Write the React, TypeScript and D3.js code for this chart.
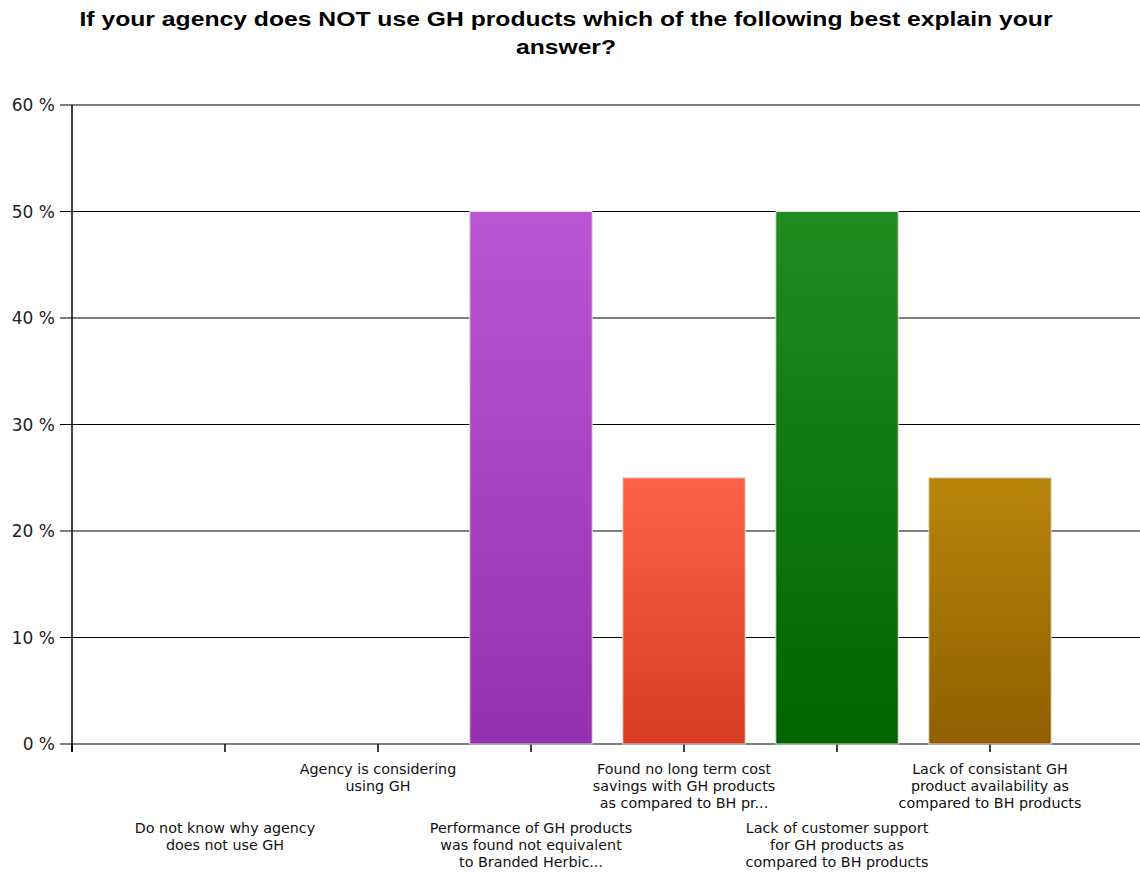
import React from "react";
import * as d3 from "d3";

const categories: string[][] = [
  ["Do not know why agency", "does not use GH"],
  ["Agency is considering", "using GH"],
  ["Performance of GH products", "was found not equivalent", "to Branded Herbic..."],
  ["Found no long term cost", "savings with GH products", "as compared to BH pr..."],
  ["Lack of customer support", "for GH products as", "compared to BH products"],
  ["Lack of consistant GH", "product availability as", "compared to BH products"],
];
const values: number[] = [0, 0, 50, 25, 50, 25];
const colorsTop: string[] = ["#BA55D3", "#BA55D3", "#BA55D3", "#FF6347", "#228B22", "#B8860B"];
const colorsBottom: string[] = ["#9932CC", "#9932CC", "#9530B0", "#D63C20", "#006400", "#8F5F00"];
const yTicks: number[] = [0, 10, 20, 30, 40, 50, 60];
const titleLines: string[] = [
  "If your agency does NOT use GH products which of the following best explain your",
  "answer?",
];
const titleWidths: number[] = [973, 100];

export default function App() {
  const W = 1140, H = 873;
  const left = 72, right = 1143, top = 105, bottom = 744;
  const x = d3.scaleLinear().domain([0, categories.length + 1]).range([left, right]);
  const y = d3.scaleLinear().domain([0, 60]).range([bottom, top]);
  const step = x(1) - x(0);
  const bw = step * 0.8;
  return (
    <svg width={W} height={H} style={{ position: "absolute", left: 0, top: 0, background: "#fff" }}>
      <defs>
        {values.map((_, i) => (
          <linearGradient key={i} id={`g${i}`} x1="0" y1="0" x2="0" y2="1">
            <stop offset="0%" stopColor={colorsTop[i]} />
            <stop offset="100%" stopColor={colorsBottom[i]} />
          </linearGradient>
        ))}
      </defs>
      {titleLines.map((t, i) => (
        <text key={i} x={566} y={26 + i * 28} textAnchor="middle"
          textLength={titleWidths[i]} lengthAdjust="spacingAndGlyphs"
          fontFamily="Liberation Sans, Arial, sans-serif" fontWeight="bold" fontSize={21} fill="#000">
          {t}
        </text>
      ))}
      {yTicks.map((t) => (
        <g key={t}>
          <line x1={left - 12} x2={W} y1={y(t)} y2={y(t)} stroke="#000" strokeWidth={1.2} />
          <text x={55} y={y(t) + 6} textAnchor="end" fontFamily="DejaVu Sans, sans-serif"
            fontSize={17} fill="#222">{`${t} %`}</text>
        </g>
      ))}
      <line x1={left} x2={left} y1={top} y2={bottom + 8} stroke="#000" strokeWidth={1.5} />
      {d3.range(0, categories.length + 1).map((k) => (
        <line key={k} x1={x(k)} x2={x(k)} y1={bottom} y2={bottom + 8} stroke="#000" strokeWidth={1.5} />
      ))}
      {values.map((v, i) => v > 0 && (
        <rect key={i} x={x(i + 1) - bw / 2} y={y(v)} width={bw} height={y(0) - y(v)}
          fill={`url(#g${i})`} stroke="#ddd" strokeWidth={1} />
      ))}
      {categories.map((lines, i) => {
        const upper = i % 2 === 1;
        const y0 = upper ? 774 : 833;
        return (
          <text key={i} textAnchor="middle" fontFamily="DejaVu Sans, sans-serif" fontSize={14.3} fill="#111">
            {lines.map((l, j) => (
              <tspan key={j} x={x(i + 1)} y={y0 + j * 17}>{l}</tspan>
            ))}
          </text>
        );
      })}
    </svg>
  );
}
